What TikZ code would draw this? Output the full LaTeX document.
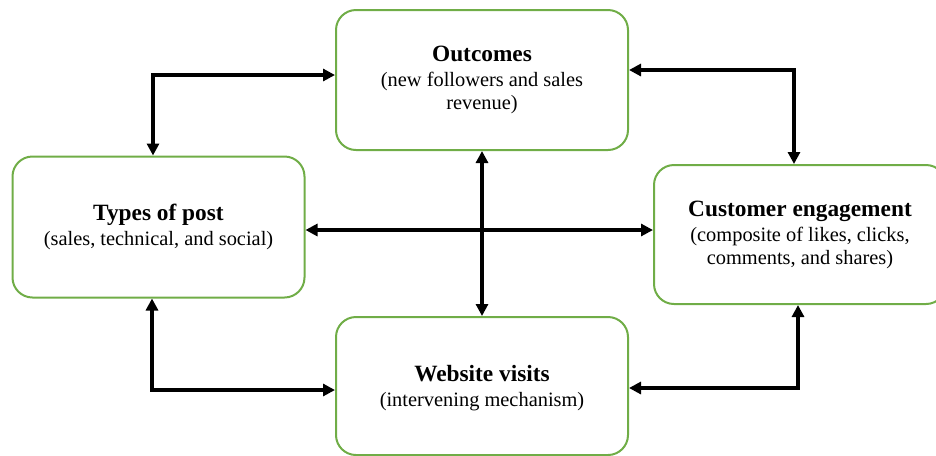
\documentclass[tikz,border=0pt]{standalone}
\usepackage{fontspec}
\setmainfont{Liberation Serif}
\usetikzlibrary{arrows.meta}

\definecolor{boxgreen}{HTML}{70AD47}
\newcommand{\headfont}{\fontsize{17.5}{17}\selectfont\bfseries}

\tikzset{
	factor/.style={draw=boxgreen, line width=1.5pt, rounded corners=15pt,
		align=center, inner sep=0pt, minimum width=219pt,
		font=\fontsize{15.3}{17}\selectfont},
	link/.style={line width=2.6pt, {Triangle[length=9pt,width=9pt]}-{Triangle[length=9pt,width=9pt]}}
}

\begin{document}
\begin{tikzpicture}[x=0.75pt, y=-0.75pt]
		\useasboundingbox (0,0) rectangle (936,455);
		\clip (0,0) rectangle (936,455);
		% the four factors
		\node[factor, minimum height=105pt] (out) at (482,80)
			{{\headfont Outcomes}\\[2pt](new followers and sales\\revenue)};
		\node[factor, minimum height=105.75pt] (types) at (158.5,227)
			{{\headfont Types of post}\\[2pt](sales, technical, and social)};
		\node[factor, minimum height=104.25pt] (cust) at (800,234.5)
			{{\headfont Customer engagement}\\[2pt](composite of likes, clicks,\\comments, and shares)};
		\node[factor, minimum height=103.5pt, text depth=-6pt] (web) at (482,386)
			{{\headfont Website visits}\\[2pt](intervening mechanism)};
		% bends of the connectors
		\coordinate (tl) at (153,75);
		\coordinate (tr) at (794,70);
		\coordinate (mid) at (482,230);
		\coordinate (bl) at (152,390);
		\coordinate (br) at (798,388);
		\draw[link] (tl -| out.west) -- (tl) -- (tl |- types.north);
		\draw[link] (tr -| out.east) -- (tr) -- (tr |- cust.north);
		\draw[link] (mid -| types.east) -- (mid -| cust.west);
		\draw[link] (out.south) -- (web.north);
		\draw[link] (bl |- types.south) -- (bl) -- (bl -| web.west);
		\draw[link] (br |- cust.south) -- (br) -- (br -| web.east);
\end{tikzpicture}
\end{document}
